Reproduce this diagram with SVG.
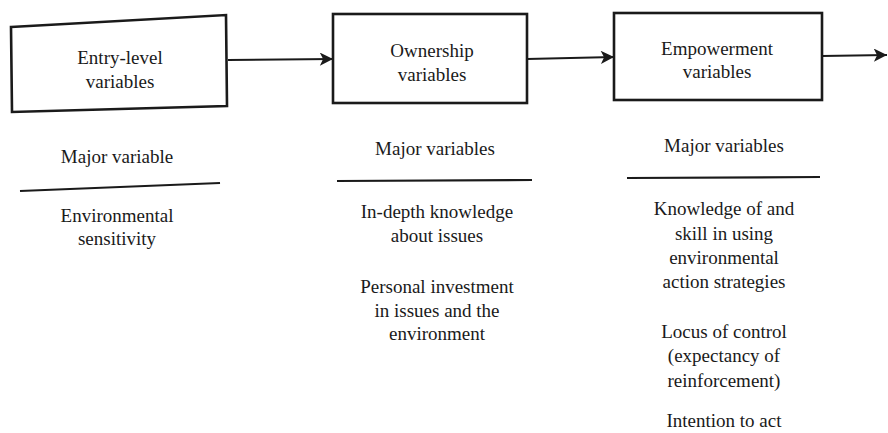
<svg xmlns="http://www.w3.org/2000/svg" width="888" height="433" viewBox="0 0 888 433">
<defs>
<style>
.box{fill:#fff;stroke:#1a1a1a;stroke-width:2.6}
.t{font-size:19px;fill:#1a1a1a}
.ln{stroke:#1a1a1a;stroke-width:2.2;fill:none}
</style>
<marker id="ah" viewBox="0 0 10 10" refX="10" refY="5" markerWidth="7" markerHeight="6" markerUnits="strokeWidth" orient="auto">
<path d="M0,0 L10,5 L0,10 L2.5,5 Z" fill="#1a1a1a"/>
</marker>
</defs>
<rect width="888" height="433" fill="#fff"/>
<g id="connectors">
<line class="ln" x1="228" y1="60" x2="333" y2="59" marker-end="url(#ah)"/>
<line class="ln" x1="527" y1="59" x2="614" y2="57" marker-end="url(#ah)"/>
<line class="ln" x1="822" y1="56" x2="887" y2="55" marker-end="url(#ah)"/>
</g>
<g id="entry-level">
<polygon class="box" points="11,27 226,15 227,106 12,112"/>
<text class="t" font-family="Liberation Serif, serif" text-anchor="middle" x="120" y="64">Entry-level</text>
<text class="t" font-family="Liberation Serif, serif" text-anchor="middle" x="120" y="88">variables</text>
</g>
<g id="ownership">
<rect class="box" x="333" y="14" width="194" height="89"/>
<text class="t" font-family="Liberation Serif, serif" text-anchor="middle" x="432" y="57">Ownership</text>
<text class="t" font-family="Liberation Serif, serif" text-anchor="middle" x="432" y="81">variables</text>
</g>
<g id="empowerment">
<rect class="box" x="614" y="13" width="208" height="87"/>
<text class="t" font-family="Liberation Serif, serif" text-anchor="middle" x="717" y="55">Empowerment</text>
<text class="t" font-family="Liberation Serif, serif" text-anchor="middle" x="717" y="78">variables</text>
</g>
<g id="col1">
<text class="t" font-family="Liberation Serif, serif" text-anchor="middle" x="117" y="163">Major variable</text>
<line class="ln" x1="20" y1="191" x2="220" y2="183"/>
<text class="t" font-family="Liberation Serif, serif" text-anchor="middle" x="117" y="222">Environmental</text>
<text class="t" font-family="Liberation Serif, serif" text-anchor="middle" x="117" y="245">sensitivity</text>
</g>
<g id="col2">
<text class="t" font-family="Liberation Serif, serif" text-anchor="middle" x="435" y="155">Major variables</text>
<line class="ln" x1="337" y1="181" x2="532" y2="180"/>
<text class="t" font-family="Liberation Serif, serif" text-anchor="middle" x="437" y="218">In-depth knowledge</text>
<text class="t" font-family="Liberation Serif, serif" text-anchor="middle" x="437" y="242">about issues</text>
<text class="t" font-family="Liberation Serif, serif" text-anchor="middle" x="437" y="293">Personal investment</text>
<text class="t" font-family="Liberation Serif, serif" text-anchor="middle" x="437" y="317">in issues and the</text>
<text class="t" font-family="Liberation Serif, serif" text-anchor="middle" x="437" y="340">environment</text>
</g>
<g id="col3">
<text class="t" font-family="Liberation Serif, serif" text-anchor="middle" x="724" y="152">Major variables</text>
<line class="ln" x1="627" y1="178" x2="820" y2="177"/>
<text class="t" font-family="Liberation Serif, serif" text-anchor="middle" x="724" y="215">Knowledge of and</text>
<text class="t" font-family="Liberation Serif, serif" text-anchor="middle" x="724" y="240">skill in using</text>
<text class="t" font-family="Liberation Serif, serif" text-anchor="middle" x="724" y="264">environmental</text>
<text class="t" font-family="Liberation Serif, serif" text-anchor="middle" x="724" y="288">action strategies</text>
<text class="t" font-family="Liberation Serif, serif" text-anchor="middle" x="724" y="338">Locus of control</text>
<text class="t" font-family="Liberation Serif, serif" text-anchor="middle" x="724" y="362">(expectancy of</text>
<text class="t" font-family="Liberation Serif, serif" text-anchor="middle" x="724" y="387">reinforcement)</text>
<text class="t" font-family="Liberation Serif, serif" text-anchor="middle" x="724" y="427">Intention to act</text>
</g>
</svg>
